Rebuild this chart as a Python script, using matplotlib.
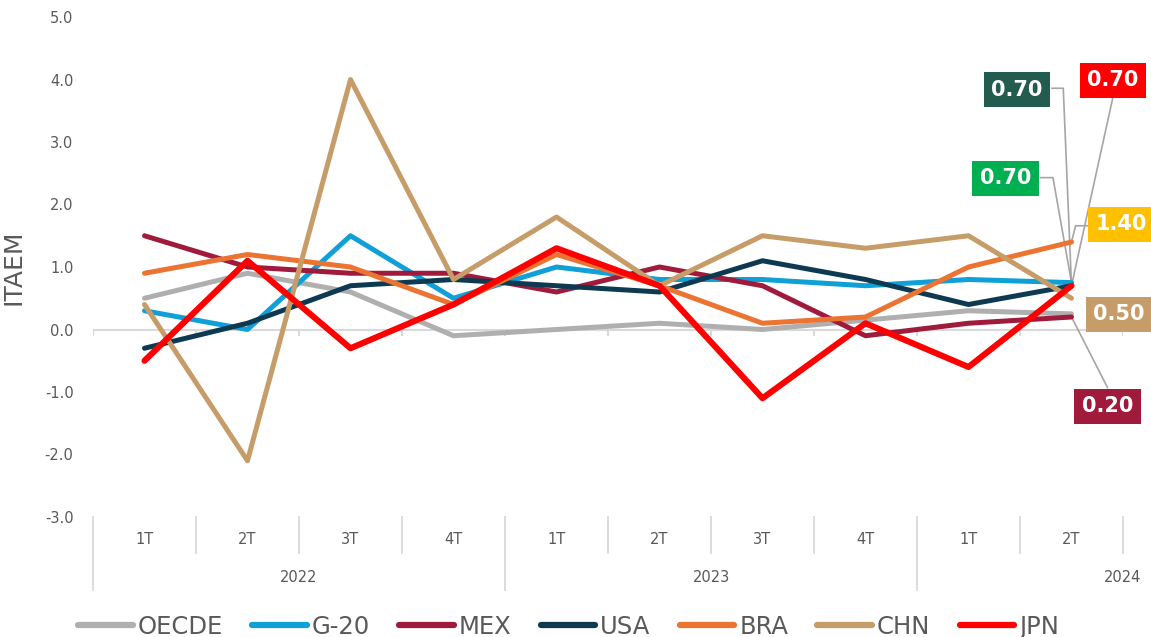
import matplotlib
matplotlib.use("Agg")
import matplotlib.pyplot as plt
import matplotlib.transforms as mtransforms
from matplotlib.lines import Line2D

# ---------------- data ----------------
quarters = ["1T", "2T", "3T", "4T", "1T", "2T", "3T", "4T", "1T", "2T"]
years = ["2022", "2023", "2024"]
year_groups = [(0, 4), (4, 8), (8, 12)]  # quarter index ranges per year

oecde = [0.5, 0.9, 0.6, -0.1, 0.0, 0.1, 0.0, 0.15, 0.3, 0.25]
g20   = [0.3, 0.0, 1.5, 0.5, 1.0, 0.8, 0.8, 0.7, 0.8, 0.75]
mex   = [1.5, 1.0, 0.9, 0.9, 0.6, 1.0, 0.7, -0.1, 0.1, 0.2]
usa   = [-0.3, 0.1, 0.7, 0.8, 0.7, 0.6, 1.1, 0.8, 0.4, 0.7]
bra   = [0.9, 1.2, 1.0, 0.4, 1.2, 0.7, 0.1, 0.2, 1.0, 1.4]
chn   = [0.4, -2.1, 4.0, 0.8, 1.8, 0.7, 1.5, 1.3, 1.5, 0.5]
jpn   = [-0.5, 1.1, -0.3, 0.4, 1.3, 0.7, -1.1, 0.1, -0.6, 0.7]

series_names = ["OECDE", "G-20", "MEX", "USA", "BRA", "CHN", "JPN"]
series_values = [oecde, g20, mex, usa, bra, chn, jpn]
series_colors = ["#AFAFAF", "#0FA0D8", "#A01B3B", "#0D3A50", "#EC7432", "#C69C68", "#FF0000"]
series_widths = [3.6, 3.6, 3.6, 3.6, 3.6, 3.6, 4.4]

# end labels: text, box colour, series they point to
label_texts = ["0.70", "0.70", "0.70", "1.40", "0.50", "0.20"]
label_colors = ["#235B4E", "#FF0000", "#00B050", "#FFC000", "#C69C68", "#A01B3B"]
label_series = ["USA", "JPN", "G-20", "BRA", "CHN", "MEX"]

# ---------------- figure ----------------
W, H = 1151, 637
fig = plt.figure(figsize=(W / 100, H / 100), dpi=100)
left_px, right_px, top_px, bot_px = 93, 1123, 17, 517
ax = fig.add_axes([left_px / W, (H - bot_px) / H, (right_px - left_px) / W, (bot_px - top_px) / H])

TXT = "#595959"
GRID = "#D9D9D9"
n = len(quarters)
x = list(range(n))

for name, vals, col, lw in zip(series_names, series_values, series_colors, series_widths):
    ax.plot(x, vals, color=col, lw=lw, solid_capstyle="round", solid_joinstyle="round",
            label=name, zorder=3)

ax.set_xlim(-0.5, n - 0.5)
ax.set_ylim(-3, 5)
yt = [-3, -2, -1, 0, 1, 2, 3, 4, 5]
ax.set_yticks(yt)
ax.set_yticklabels([f"{v:.1f}" for v in yt], color=TXT, fontsize=10.5)
ax.tick_params(axis="y", length=0, pad=14)
ax.set_xticks([])
for s in ax.spines.values():
    s.set_visible(False)

ax.set_ylabel("ITAEM", color=TXT, fontsize=18)
ax.yaxis.set_label_coords(-0.066, 0.5)

# zero line with small ticks
ax.axhline(0, color=GRID, lw=1.5, zorder=1)
for b in range(n + 1):
    ax.plot([b - 0.5, b - 0.5], [0, -0.09], color=GRID, lw=1.5, zorder=1)

# two-level category axis
tr = mtransforms.blended_transform_factory(ax.transData, ax.transAxes)
year_bounds = [g[0] for g in year_groups]
for b in range(n + 1):
    y_end = -0.146 if b in year_bounds else -0.072
    ax.plot([b - 0.5, b - 0.5], [0, y_end], color=GRID, lw=1.3, transform=tr, clip_on=False)
for i, q in enumerate(quarters):
    ax.text(i, -0.046, q, transform=tr, ha="center", va="center", color=TXT, fontsize=10.5)
for yr, (a, b) in zip(years, year_groups):
    ax.text((a + b - 1) / 2, -0.12, yr, transform=tr, ha="center", va="center", color=TXT,
            fontsize=10.5, clip_on=False)

# end-value labels with leader lines
last = {nm: v[-1] for nm, v in zip(series_names, series_values)}
label_pos = [(8.47, 3.84), (9.40, 3.99), (8.36, 2.42), (9.48, 1.68), (9.46, 0.24), (9.35, -1.23)]
leaders = [
    [(8.81, 3.86), (8.92, 3.86)],
    [(9.40, 3.70)],
    [(8.70, 2.43), (8.82, 2.43)],
    [(9.16, 1.66), (9.04, 1.66)],
    [],
    [(9.35, -0.93)],
]
xe = n - 1
for txt, col, ser, pos, lead in zip(label_texts, label_colors, label_series, label_pos, leaders):
    if lead:
        xs = [p[0] for p in lead] + [xe]
        ys = [p[1] for p in lead] + [last[ser]]
        ax.plot(xs, ys, color="#A5A5A5", lw=1.2, zorder=2, clip_on=False)
    ax.text(pos[0], pos[1], txt, ha="center", va="center", color="white", fontsize=15,
            fontweight="bold", zorder=5, clip_on=False,
            bbox=dict(boxstyle="square,pad=0.36", fc=col, ec="none"))

# legend
handles = [Line2D([0], [0], color=c, lw=4.5, solid_capstyle="round") for c in series_colors]
fig.legend(handles, series_names, loc="center", bbox_to_anchor=(0.494, 0.016), ncol=7,
           frameon=False, fontsize=17.5, handlelength=2.25, handletextpad=0.2, columnspacing=1.2,
           labelcolor=TXT)

fig.savefig("out.png", dpi=100)
